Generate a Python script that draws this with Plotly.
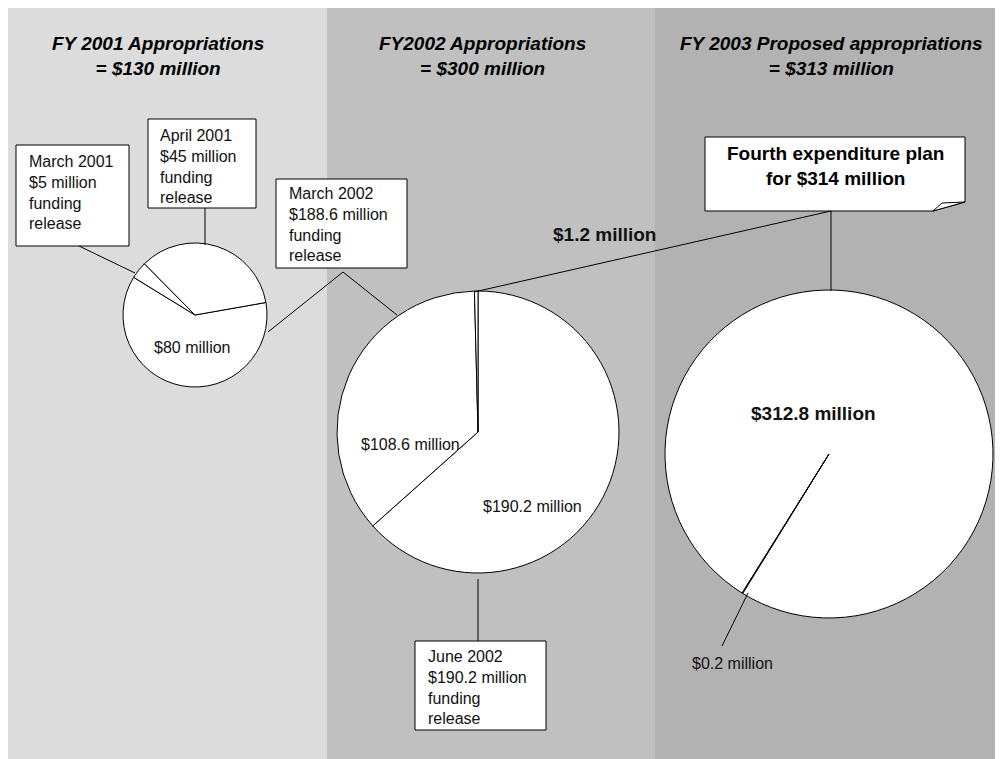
import plotly.graph_objects as go

OFF = 8  # the page body margin shifts the figure by 8px
W, H = 1003, 759
FONT = "Liberation Sans, Arial, sans-serif"

# funding by fiscal year, $ millions (slice order = clockwise drawing order)
fy2001_values = [80, 5, 45]
fy2002_values = [190.2, 108.6, 1.2]
fy2003_values = [312.8, 0.2]

panel_titles = [
    "FY 2001 Appropriations<br>= $130 million",
    "FY2002 Appropriations<br>= $300 million",
    "FY 2003 Proposed appropriations<br>= $313 million",
]
release_notes = [
    "March 2001<br>$5 million<br>funding<br>release",
    "April 2001<br>$45 million<br>funding<br>release",
    "March 2002<br>$188.6 million<br>funding<br>release",
    "June 2002<br>$190.2 million<br>funding<br>release",
]
plan_note = "Fourth expenditure plan<br>for $314 million"


# page pixel -> paper fraction
def px(x):
    return (x - OFF) / W


def py(y):
    return 1 - (y - OFF) / H


def money(v):
    return f"${v:g} million"


def pie_domain(cx, cy, r):
    return dict(x=[px(cx - r), px(cx + r)], y=[py(cy + r), py(cy - r)])


def pie(values, cx, cy, r, rotation):
    return go.Pie(
        values=values,
        sort=False,
        direction="clockwise",
        rotation=rotation,
        domain=pie_domain(cx, cy, r),
        marker=dict(colors=["white"] * len(values), line=dict(color="black", width=1)),
        textinfo="none",
        hoverinfo="value",
        showlegend=False,
    )


fig = go.Figure()
fig.add_trace(pie(fy2001_values, 195, 315, 72, 80))
fig.add_trace(pie(fy2002_values, 478, 432, 141, 0))
fig.add_trace(pie(fy2003_values, 829, 454, 164, 212))

shapes = []
# background panels
for x0, x1, col in [(0, 327, "#dcdcdc"), (327, 655, "#c0c0c0"), (655, 1100, "#b2b2b2")]:
    shapes.append(dict(type="rect", xref="paper", yref="paper", layer="below",
                       x0=max(px(x0), 0), x1=min(px(x1), 1), y0=0, y1=1,
                       fillcolor=col, line=dict(width=0)))

# note boxes
for x0, y0, x1, y1 in [(16, 145, 129, 246), (148, 119, 256, 208),
                       (276, 179, 407, 268), (415, 641, 546, 730)]:
    shapes.append(dict(type="rect", xref="paper", yref="paper", layer="above",
                       x0=px(x0), x1=px(x1), y0=py(y1), y1=py(y0),
                       fillcolor="white", line=dict(color="black", width=1)))


def path(pts, close=True):
    s = "M " + " L ".join(f"{px(x)},{py(y)}" for x, y in pts)
    return s + (" Z" if close else "")


# plan box with folded corner
shapes.append(dict(type="path", xref="paper", yref="paper", layer="above",
                   path=path([(705, 137), (965, 137), (965, 202), (933, 211), (705, 211)]),
                   fillcolor="white", line=dict(color="black", width=1)))
shapes.append(dict(type="path", xref="paper", yref="paper", layer="above",
                   path=path([(933, 211), (942, 203), (965, 202)]),
                   fillcolor="white", line=dict(color="black", width=1)))

# leader lines
for x0, y0, x1, y1 in [(79, 246, 135, 273), (205, 208, 205, 245),
                       (343, 272, 268, 332), (343, 272, 397, 315),
                       (478, 579, 478, 641), (831, 211, 831, 291),
                       (474, 292, 831, 211), (722, 646, 748, 593)]:
    shapes.append(dict(type="line", xref="paper", yref="paper", layer="above",
                       x0=px(x0), y0=py(y0), x1=px(x1), y1=py(y1),
                       line=dict(color="black", width=1)))

ann = []
for (cx, cy), t in zip([(158, 56), (482, 56), (831, 56)], panel_titles):
    ann.append(dict(x=px(cx), y=py(cy), text=f"<b><i>{t}</i></b>",
                    font=dict(size=19, color="black", family=FONT)))

for (lx, cy), t in zip([(27, 192), (158, 166), (287, 224), (426, 687)], release_notes):
    ann.append(dict(x=px(lx), y=py(cy), text=t, xanchor="left", align="left",
                    font=dict(size=16, color="#111111", family=FONT)))

ann.append(dict(x=px(835), y=py(166), text=f"<b>{plan_note}</b>",
                font=dict(size=19, color="black", family=FONT)))

# slice labels
for (cx, cy), v, bold in [((192, 348), fy2001_values[0], False),
                          ((410, 444), fy2002_values[1], False),
                          ((532, 506), fy2002_values[0], False),
                          ((604, 235), fy2002_values[2], True),
                          ((813, 413), fy2003_values[0], True),
                          ((732, 663), fy2003_values[1], False)]:
    t = money(v)
    ann.append(dict(x=px(cx), y=py(cy), text=f"<b>{t}</b>" if bold else t,
                    font=dict(size=19 if bold else 16, color="#111111", family=FONT)))

for a in ann:
    a.update(xref="paper", yref="paper", showarrow=False)
    a.setdefault("xanchor", "center")
    a.setdefault("yanchor", "middle")

fig.update_layout(
    width=W, height=H,
    margin=dict(l=0, r=0, t=0, b=0),
    paper_bgcolor="white",
    plot_bgcolor="white",
    shapes=shapes,
    annotations=ann,
    font=dict(family=FONT),
)

# no scrollbars: let the figure run off the window edge like the original
fig.write_html("out.html", post_script="document.documentElement.style.overflow='hidden';")
